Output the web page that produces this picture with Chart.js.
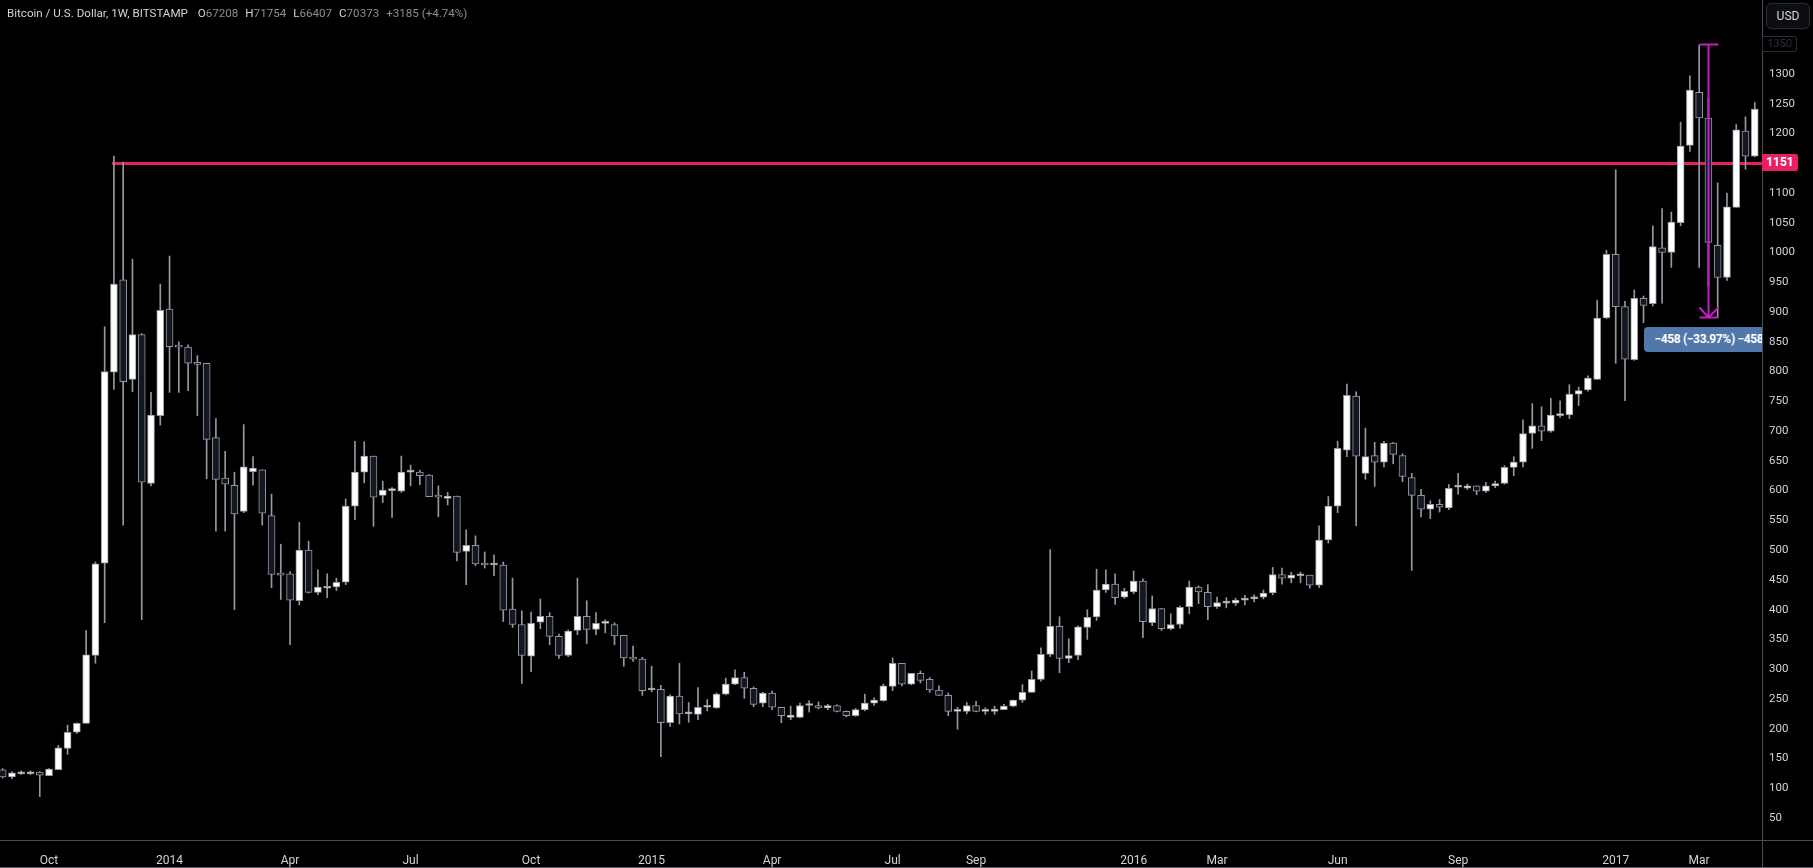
<!DOCTYPE html>
<html>
<head>
<meta charset="utf-8">
<title>Bitcoin / U.S. Dollar, 1W, BITSTAMP</title>
<script src="https://cdn.jsdelivr.net/npm/chart.js@4.4.1/dist/chart.umd.min.js"></script>
<style>
    html, body { margin: 0; padding: 0; background: #000; }
    #wrap { position: relative; width: 1813px; height: 868px; overflow: hidden; font-family: Roboto, "Noto Sans", sans-serif; }
    #chart { position: absolute; left: 0; top: 0; }
    #legend { position: absolute; left: 7px; top: 6px; font-size: 11.6px; color: #d1d4dc; white-space: pre; }
    #legend .v { color: #8b8e97; }
    #legend .k { margin-left: 7px; }
    #usd { position: absolute; left: 1766px; top: 3px; width: 44px; height: 26px; box-sizing: border-box; border: 1px solid #2a2e39; border-radius: 5px; background: #0c0d10; color: #d1d4dc; font-size: 12px; line-height: 24px; text-align: center; }
    #plotClip { position: absolute; left: 0; top: 0; width: 1762px; height: 840px; overflow: hidden; pointer-events: none; }
    #measureTag { position: absolute; height: 25px; width: 160px; box-sizing: border-box; padding-left: 10px; background: #5177ab; border-radius: 4px; color: #fff; font-size: 12px; font-weight: bold; letter-spacing: -0.35px; line-height: 25px; white-space: pre; }
    #levelTag { position: absolute; left: 1762px; width: 36px; height: 17px; background: #e91e63; border-radius: 0 2px 2px 0; color: #fff; font-size: 12px; font-weight: bold; line-height: 17px; text-align: center; }
    #topTag { position: absolute; left: 1762px; width: 35px; height: 16px; box-sizing: border-box; border: 1px solid #2a2e39; border-radius: 2px; background: #000; color: #2a2e39; font-size: 11px; line-height: 14px; text-align: center; }
    #bottomEdge { position: absolute; left: 0; top: 867px; width: 1813px; height: 1px; background: #5d606b; }
</style>
</head>
<body>
<div id="wrap">
    <canvas id="chart" width="1813" height="868"></canvas>
    <div id="plotClip"><div id="measureTag">−458 (−33.97%) −45800</div></div>
    <div id="legend">Bitcoin / U.S. Dollar, 1W, BITSTAMP <span class="k">O</span><span class="v">67208</span><span class="k">H</span><span class="v">71754</span><span class="k">L</span><span class="v">66407</span><span class="k">C</span><span class="v">70373</span><span class="k v">+3185 (+4.74%)</span></div>
    <div id="usd">USD</div>
    <div id="topTag">1350</div>
    <div id="levelTag">1151</div>
    <div id="bottomEdge"></div>
</div>
<script>
// weekly candles, first one = week of 2 Sep 2013
const opens = [
    131, 119, 124, 124, 127, 121, 131, 167, 194, 209,
    323, 478, 799, 954, 787, 862, 612, 726, 905, 844,
    841, 815, 814, 689, 621, 609, 565, 632, 635, 558,
    461, 460, 415, 500, 429, 436, 438, 446, 574, 631,
    658, 592, 600, 599, 631, 631, 626, 592, 587, 591,
    498, 508, 478, 475, 475, 401, 375, 322, 379, 389,
    355, 323, 365, 389, 367, 377, 375, 357, 320, 317,
    265, 266, 210, 255, 225, 224, 236, 235, 258, 275,
    286, 268, 243, 260, 236, 219, 219, 239, 239, 235,
    239, 229, 222, 232, 243, 247, 271, 310, 275, 293,
    283, 265, 256, 229, 229, 239, 229, 229, 232, 238,
    248, 261, 283, 325, 372, 318, 323, 370, 388, 433,
    443, 421, 430, 448, 378, 402, 368, 375, 405, 438,
    429, 405, 411, 411, 416, 418, 421, 428, 459, 453,
    457, 458, 441, 517, 574, 668, 759, 629, 659, 648,
    680, 659, 622, 592, 569, 577, 571, 606, 604, 608,
    599, 608, 612, 639, 648, 696, 709, 700, 726, 727,
    762, 769, 787, 890, 997, 909, 820, 923, 914, 1008,
    1000, 1050, 1180, 1269, 1226, 1012, 958, 1076, 1204, 1162
];
const highs = [
    133, 128, 129, 129, 128, 133, 172, 206, 210, 365,
    480, 875, 1162, 1152, 989, 864, 765, 947, 994, 850,
    845, 827, 814, 721, 666, 631, 711, 657, 635, 594,
    510, 464, 547, 515, 467, 460, 453, 586, 683, 682,
    658, 616, 605, 658, 643, 634, 627, 608, 597, 591,
    534, 524, 497, 492, 480, 453, 398, 396, 418, 395,
    359, 366, 453, 415, 395, 383, 378, 357, 339, 320,
    305, 273, 257, 310, 244, 269, 249, 260, 285, 299,
    295, 270, 261, 263, 236, 238, 243, 247, 245, 241,
    240, 230, 234, 258, 252, 275, 319, 310, 293, 297,
    286, 272, 260, 236, 244, 246, 235, 238, 241, 248,
    274, 297, 336, 501, 388, 351, 373, 400, 468, 467,
    460, 436, 465, 452, 423, 402, 393, 406, 448, 440,
    442, 421, 420, 419, 424, 425, 433, 471, 470, 463,
    463, 458, 541, 590, 683, 779, 766, 705, 681, 683,
    681, 662, 629, 602, 583, 585, 610, 629, 611, 608,
    614, 616, 642, 657, 719, 746, 741, 755, 751, 778,
    774, 793, 920, 1004, 1139, 918, 937, 927, 1045, 1074,
    1068, 1219, 1297, 1349, 1259, 1117, 1100, 1215, 1228, 1252
];
const lows = [
    117, 116, 123, 123, 86, 121, 131, 157, 192, 209,
    310, 378, 770, 542, 766, 383, 608, 710, 765, 765,
    768, 726, 620, 532, 532, 400, 563, 609, 542, 437,
    417, 341, 408, 428, 425, 420, 432, 442, 551, 613,
    540, 580, 555, 597, 608, 610, 590, 556, 576, 482,
    442, 474, 470, 457, 380, 370, 276, 296, 368, 341,
    318, 321, 358, 343, 358, 361, 341, 305, 313, 256,
    262, 153, 204, 208, 211, 215, 230, 234, 257, 274,
    251, 237, 237, 232, 210, 215, 218, 228, 233, 232,
    228, 220, 221, 230, 239, 246, 264, 272, 274, 277,
    261, 256, 222, 199, 225, 228, 224, 224, 232, 237,
    244, 261, 280, 321, 294, 311, 316, 350, 382, 429,
    409, 419, 427, 353, 373, 365, 366, 369, 393, 410,
    383, 402, 403, 407, 408, 413, 418, 425, 443, 445,
    445, 436, 437, 512, 563, 657, 541, 619, 607, 640,
    645, 615, 466, 556, 553, 564, 568, 594, 602, 593,
    597, 605, 611, 625, 640, 671, 684, 698, 723, 721,
    743, 767, 787, 889, 814, 751, 819, 882, 910, 915,
    975, 1045, 1170, 975, 944, 891, 953, 1076, 1140, 1161
];
const closes = [
    119, 126, 126, 127, 122, 132, 168, 194, 209, 324,
    477, 800, 947, 783, 862, 614, 727, 903, 842, 841,
    814, 812, 686, 619, 611, 561, 640, 638, 562, 459,
    458, 416, 500, 429, 438, 439, 446, 574, 631, 658,
    589, 601, 602, 631, 633, 625, 590, 589, 591, 496,
    508, 477, 475, 476, 399, 375, 323, 377, 389, 355,
    323, 364, 389, 367, 377, 378, 356, 319, 317, 264,
    267, 210, 255, 225, 227, 236, 238, 258, 275, 286,
    268, 241, 260, 236, 222, 223, 239, 240, 235, 239,
    229, 222, 232, 243, 248, 272, 310, 275, 293, 281,
    265, 256, 229, 230, 239, 229, 230, 233, 238, 248,
    261, 283, 325, 372, 318, 323, 371, 387, 433, 443,
    420, 431, 448, 380, 402, 368, 375, 404, 438, 430,
    405, 412, 413, 416, 418, 421, 428, 459, 453, 458,
    457, 441, 517, 574, 671, 760, 658, 657, 648, 680,
    661, 624, 592, 569, 577, 572, 604, 607, 608, 599,
    608, 612, 639, 648, 696, 709, 700, 727, 728, 762,
    768, 789, 890, 997, 909, 821, 923, 911, 1010, 1000,
    1051, 1179, 1273, 1226, 1017, 958, 1077, 1206, 1162, 1241
];

const tickWeeks = [5, 18, 31, 44, 57, 70, 83, 96, 105, 122, 131, 144, 157, 174, 183];
const tickLabels = ['Oct', '2014', 'Apr', 'Jul', 'Oct', '2015', 'Apr', 'Jul', 'Sep', '2016', 'Mar', 'Jun', 'Sep', '2017', 'Mar'];
const priceTicks = [50, 100, 150, 200, 250, 300, 350, 400, 450, 500, 550, 600, 650,
    700, 750, 800, 850, 900, 950, 1000, 1050, 1100, 1150, 1200, 1250, 1300];

// drawings on the chart
const levelPrice = 1151;
const levelStartWeek = 11.8;
const measureWeek = 184;
const measureFrom = 1350;
const measureTo = 892;

const upColor = '#ffffff';
const downColor = '#131722';
const edgeColor = '#9598a1';
const textColor = '#d1d4dc';
const lineColor = '#4a4d57';

const bodies = opens.map((o, i) => ({ x: i, y: [o, closes[i]] }));
const wicks = lows.map((l, i) => ({ x: i, y: [l, highs[i]] }));

const overlay = {
    id: 'overlay',
    beforeDatasetsDraw(chart) {
        const { ctx, chartArea, scales: { x, y } } = chart;
        const ly = Math.round(y.getPixelForValue(levelPrice)) + 0.5;
        ctx.save();
        ctx.strokeStyle = '#e91e63';
        ctx.lineWidth = 3;
        ctx.beginPath();
        ctx.moveTo(x.getPixelForValue(levelStartWeek), ly);
        ctx.lineTo(chartArea.right, ly);
        ctx.stroke();
        ctx.restore();
    },
    afterDatasetsDraw(chart) {
        const { ctx, scales: { x, y } } = chart;
        const mx = Math.round(x.getPixelForValue(measureWeek)) + 0.5;
        const left = Math.round(x.getPixelForValue(measureWeek - 1)) + 0.5;
        const right = Math.round(x.getPixelForValue(measureWeek + 1)) + 0.5;
        const top = Math.round(y.getPixelForValue(measureFrom)) + 0.5;
        const bottom = Math.round(y.getPixelForValue(measureTo)) + 0.5;
        ctx.save();
        ctx.strokeStyle = '#c21fc4';
        ctx.lineWidth = 2;
        ctx.beginPath();
        ctx.moveTo(left, top); ctx.lineTo(right, top);
        ctx.moveTo(mx, top); ctx.lineTo(mx, bottom);
        ctx.moveTo(left, bottom); ctx.lineTo(right, bottom);
        ctx.moveTo(left, bottom - 10); ctx.lineTo(mx, bottom);
        ctx.lineTo(right, bottom - 10);
        ctx.stroke();
        ctx.restore();
    },
    afterDraw(chart) {
        const { ctx, chartArea, scales: { x, y } } = chart;
        ctx.save();
        ctx.strokeStyle = lineColor;
        ctx.lineWidth = 1;
        ctx.beginPath();
        ctx.moveTo(0, chartArea.bottom + 0.5);
        ctx.lineTo(chart.width, chartArea.bottom + 0.5);
        ctx.moveTo(chartArea.right + 0.5, 0);
        ctx.lineTo(chartArea.right + 0.5, chart.height);
        ctx.stroke();
        ctx.restore();

        const levelTag = document.getElementById('levelTag');
        levelTag.style.top = (y.getPixelForValue(levelPrice) - 8.5) + 'px';
        const topTag = document.getElementById('topTag');
        topTag.style.top = (y.getPixelForValue(measureFrom) - 8) + 'px';
        const tag = document.getElementById('measureTag');
        tag.style.left = (x.getPixelForValue(measureWeek) - 64) + 'px';
        tag.style.top = (y.getPixelForValue(measureTo) + 10) + 'px';
    }
};

const ctx = document.getElementById('chart').getContext('2d');

new Chart(ctx, {
    type: 'bar',
    data: {
        datasets: [{
            label: 'Body',
            data: bodies,
            backgroundColor: opens.map((o, i) => closes[i] >= o ? upColor : downColor),
            borderColor: edgeColor,
            borderWidth: 1,
            borderSkipped: false,
            barThickness: 7,
            minBarLength: 2,
            grouped: false
        }, {
            label: 'Wick',
            data: wicks,
            backgroundColor: edgeColor,
            borderWidth: 0,
            barThickness: 1,
            grouped: false
        }]
    },
    options: {
        responsive: false,
        animation: false,
        layout: { padding: 0 },
        plugins: {
            legend: { display: false },
            tooltip: { enabled: false }
        },
        scales: {
            x: {
                type: 'linear',
                offset: false,
                min: -0.29,
                max: 189.78,
                grid: { display: false },
                border: { display: false },
                afterFit: s => { s.height = 28; s.paddingLeft = 0; s.paddingRight = 0; },
                afterBuildTicks: s => { s.ticks = tickWeeks.map(v => ({ value: v })); },
                ticks: {
                    color: textColor,
                    padding: 6,
                    maxRotation: 0,
                    autoSkip: false,
                    font: { family: 'Roboto', size: 12 },
                    callback: v => tickLabels[tickWeeks.indexOf(v)]
                }
            },
            y: {
                position: 'right',
                min: 13,
                max: 1424.3,
                grid: { display: false, drawTicks: false },
                border: { display: false },
                afterFit: s => { s.width = 51; s.paddingTop = 0; s.paddingBottom = 0; },
                afterBuildTicks: s => { s.ticks = priceTicks.map(v => ({ value: v })); },
                ticks: {
                    color: textColor,
                    padding: 7,
                    font: { family: 'Roboto', size: 11.5 },
                    callback: v => String(v)
                }
            }
        }
    },
    plugins: [overlay]
});
</script>
</body>
</html>
